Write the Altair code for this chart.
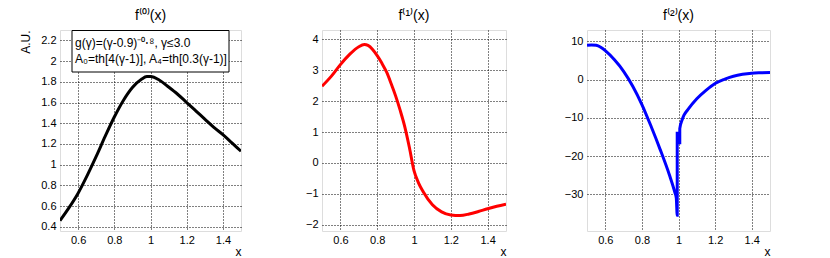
import altair as alt
import pandas as pd

FONT = "Liberation Sans"

# ---- data ----
x0 = [0.50, 0.55, 0.60, 0.65, 0.70, 0.75, 0.80, 0.85, 0.90, 0.95, 0.98, 1.00,
      1.05, 1.10, 1.15, 1.20, 1.25, 1.30, 1.35, 1.40, 1.45, 1.50]
f0 = [0.46, 0.585, 0.725, 0.895, 1.08, 1.275, 1.46, 1.62, 1.745, 1.825, 1.85, 1.85,
      1.815, 1.75, 1.68, 1.60, 1.52, 1.44, 1.36, 1.29, 1.21, 1.13]

x1 = [0.50, 0.55, 0.60, 0.65, 0.70, 0.73, 0.75, 0.775, 0.80, 0.825, 0.85, 0.875,
      0.90, 0.925, 0.95, 0.975, 1.00, 1.025, 1.05, 1.10, 1.15, 1.20, 1.25, 1.30,
      1.35, 1.40, 1.45, 1.50]
f1 = [2.48, 2.80, 3.18, 3.51, 3.76, 3.83, 3.80, 3.67, 3.47, 3.23, 2.95, 2.58,
      2.17, 1.70, 1.17, 0.50, -0.25, -0.65, -0.93, -1.35, -1.58, -1.68, -1.70,
      -1.65, -1.57, -1.48, -1.40, -1.33]

x2 = [0.50, 0.525, 0.55, 0.575, 0.60, 0.65, 0.70, 0.75, 0.80, 0.85, 0.90, 0.95,
      0.98, 0.988, 0.993, 0.993, 1.000, 1.000, 1.007, 1.007, 1.02, 1.03, 1.05,
      1.10, 1.15, 1.20, 1.25, 1.30, 1.35, 1.40, 1.45, 1.50]
f2 = [9.0, 9.1, 9.0, 8.5, 7.6, 5.2, 2.2, -1.7, -6.5, -12.2, -18.3, -24.9,
      -29.5, -31.0, -35.5, -14.0, -14.0, -16.5, -16.5, -12.8, -10.5, -9.3, -7.9,
      -5.0, -2.8, -1.0, 0.1, 0.9, 1.4, 1.7, 1.8, 1.85]

titles = ["f\u207d\u2070\u207e(x)", "f\u207d\u00b9\u207e(x)", "f\u207d\u00b2\u207e(x)"]
xticks = [0.6, 0.8, 1.0, 1.2, 1.4]
yticks0 = [0.4, 0.6, 0.8, 1.0, 1.2, 1.4, 1.6, 1.8, 2.0, 2.2]
yticks1 = [-2, -1, 0, 1, 2, 3, 4]
yticks2 = [-30, -20, -10, 0, 10]
legend_lines = ["g(\u03b3)=(\u03b3-0.9)\u207b\u2070\u22c5\u2078, \u03b3\u22643.0",
                "A\u2080=th[4(\u03b3-1)], A\u2084=th[0.3(\u03b3-1)]"]

W = [181, 184, 183]
H = 201


def ttl(t):
    return alt.TitleParams(t, font=FONT, fontSize=14, fontWeight="normal",
                           color="black", offset=1, dy=-6)


def panel(xs, ys, color, ydom, yvals, yfmt, ytitle=None):
    df = pd.DataFrame({"x": xs, "y": ys, "i": list(range(len(xs)))})
    xax = alt.Axis(values=xticks, format="~g", title="x", titleAnchor="end",
                   titleAlign="right", titleFontWeight="normal", titleFontSize=12,
                   titlePadding=1, titleFont=FONT, labelFont=FONT, labelFontSize=11,
                   labelColor="black", titleColor="black",
                   grid=True, gridColor="black", gridDash=[1, 2], gridOpacity=1,
                   domain=False, ticks=False, labelPadding=3, labelFlush=False)
    yargs = dict(values=yvals, format=yfmt, labelFont=FONT, labelFontSize=11,
                 labelColor="black", grid=True, gridColor="black", gridDash=[1, 2],
                 gridOpacity=1, domain=False, ticks=False, labelPadding=4)
    if ytitle:
        yax = alt.Axis(title=ytitle, titleAnchor="end", titleFont=FONT,
                       titleFontSize=12, titleFontWeight="normal", titleColor="black",
                       titlePadding=8, **yargs)
    else:
        yax = alt.Axis(title=None, **yargs)
    return alt.Chart(df).mark_line(color=color, strokeWidth=3, interpolate="monotone",
                                   clip=True).encode(
        x=alt.X("x:Q", scale=alt.Scale(domain=[0.5, 1.5], nice=False, zero=False), axis=xax),
        y=alt.Y("y:Q", scale=alt.Scale(domain=ydom, nice=False, zero=False), axis=yax),
        order="i:Q",
    )


p1 = panel(x0, f0, "black", [0.36, 2.3], yticks0, "~g", ytitle="A.U.")
box = alt.Chart(pd.DataFrame({"a": [0]})).mark_rect(
    fill="white", stroke="black", strokeWidth=1).encode(
    x=alt.value(12), x2=alt.value(169), y=alt.value(0.5), y2=alt.value(42))
txt = alt.Chart(pd.DataFrame({"t": ["\n".join(legend_lines)]})).mark_text(
    align="left", baseline="middle", font=FONT, fontSize=12, color="black",
    lineBreak="\n", lineHeight=16).encode(
    text="t:N", x=alt.value(15), y=alt.value(13))
p1 = alt.layer(p1, box, txt).properties(width=W[0], height=H, title=ttl(titles[0]))
p2 = panel(x1, f1, "#ff0000", [-2.2, 4.3], yticks1, "~g").properties(
    width=W[1], height=H, title=ttl(titles[1]))
p3 = panel(x2, f2, "#0000ff", [-39.6, 13.0], yticks2, "d").properties(
    width=W[2], height=H, title=ttl(titles[2]))

chart = alt.hconcat(p1, p2, p3, spacing=81, bounds="flush").configure_view(
    stroke="black", strokeWidth=1.5).configure(background="white").properties(
    padding={"left": 11, "top": 0, "right": 5, "bottom": 5})

chart.save("out.html", embed_options={"renderer": "svg", "actions": False})
